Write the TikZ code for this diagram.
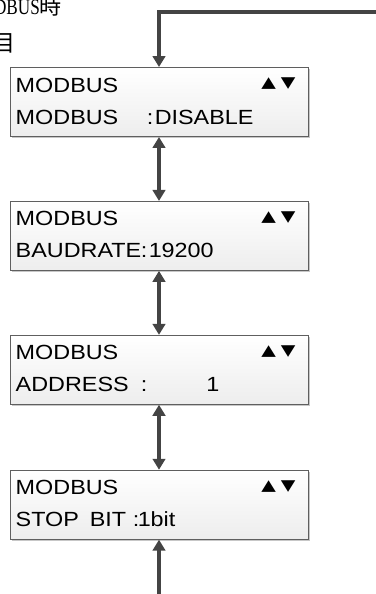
\documentclass[tikz,border=0pt]{standalone}
\usepackage{fontspec}
\usepackage{graphicx}
\setmainfont{Liberation Sans}
\newfontfamily\lcdfont[FakeStretch=1.14]{Liberation Sans}
\newfontfamily\symfont{DejaVu Sans}
\newfontfamily\cjk{Noto Sans CJK JP}
\newfontfamily\serifpart[FakeStretch=0.78]{Liberation Serif}
\usetikzlibrary{
    arrows.meta,
    positioning,
    calc,
    shadows
}
\definecolor{lcdGray}{RGB}{68,68,68}
\definecolor{lcdEdge}{RGB}{95,95,95}
\newcommand{\updown}{\scalebox{1}[0.8]{▲}\hspace{5pt}\scalebox{1}[0.8]{▼}}
\tikzset{
  lcd/.style  = {draw=lcdEdge, line width=0.9pt, top color=white,
                 bottom color=black!7, minimum width=298pt,
                 minimum height=69pt,
                 drop shadow={shadow xshift=1.5pt, shadow yshift=-1.5pt,
                              fill=black!22, opacity=1}},
  txt/.style  = {anchor=base west, inner sep=0pt,
                 font=\lcdfont\fontsize{20.5}{24}\selectfont},
  keys/.style = {inner sep=0pt, font=\symfont\fontsize{19}{22}\selectfont},
  arr/.style  = {-{Triangle[width=12.5pt,length=11pt]}, line width=3.2pt,
                 draw=lcdGray},
  darr/.style = {{Triangle[width=12.5pt,length=11pt]}-{Triangle[width=12.5pt,length=11pt]},
                 line width=3.2pt, draw=lcdGray}
}

\begin{document}
\begin{tikzpicture}[x=1pt, y=-1pt]
\useasboundingbox (0,0) rectangle (375,594);

% --- TITLE (cut at the edges) ---
\node[anchor=base east, inner sep=0pt] (title1) at (62,14.5)
    {{\serifpart\fontsize{22}{24}\selectfont DBUS}{\cjk\fontsize{22}{24}\selectfont 時}};
\node[anchor=base east, inner sep=0pt] (title2) at (16,51.5)
    {\cjk\fontsize{23}{26}\selectfont 目};

% --- DISPLAY SCREENS ---
\node[lcd] (b1) at (159,102) {};
\node[lcd, below=64pt of b1] (b2) {};
\node[lcd, below=64pt of b2] (b3) {};
\node[lcd, below=65pt of b3] (b4) {};

% --- SCREEN 1 ---
\node[txt] (b1h) at ($(b1.north west)+(6,25)$) {MODBUS};
\node[keys] (b1k) at ($(b1.north east)+(-30,17)$) {\updown};
\node[txt] (b1n) at ($(b1.north west)+(6,57)$) {MODBUS};
\node[txt] (b1c) at ($(b1.north west)+(137,57)$) {:};
\node[txt] (b1v) at ($(b1.north west)+(145,57)$) {DISABLE};

% --- SCREEN 2 ---
\node[txt] (b2h) at ($(b2.north west)+(6,25)$) {MODBUS};
\node[keys] (b2k) at ($(b2.north east)+(-30,17)$) {\updown};
\node[txt] (b2n) at ($(b2.north west)+(6,57)$) {BAUDRATE};
\node[txt] (b2c) at ($(b2.north west)+(131,57)$) {:};
\node[txt] (b2v) at ($(b2.north west)+(139,57)$) {19200};

% --- SCREEN 3 ---
\node[txt] (b3h) at ($(b3.north west)+(6,25)$) {MODBUS};
\node[keys] (b3k) at ($(b3.north east)+(-30,17)$) {\updown};
\node[txt] (b3n) at ($(b3.north west)+(6,57)$) {ADDRESS};
\node[txt] (b3c) at ($(b3.north west)+(131,57)$) {:};
\node[txt] (b3v) at ($(b3.north west)+(196.5,57)$) {1};

% --- SCREEN 4 ---
\node[txt] (b4h) at ($(b4.north west)+(6,25)$) {MODBUS};
\node[keys] (b4k) at ($(b4.north east)+(-30,17)$) {\updown};
\node[txt] (b4n) at ($(b4.north west)+(6,57)$) {STOP};
\node[txt] (b4m) at ($(b4.north west)+(80,57)$) {BIT};
\node[txt] (b4c) at ($(b4.north west)+(123,57)$) {:};
\node[txt] (b4v) at ($(b4.north west)+(128,57)$) {1bit};

% --- CONNECTIONS ---
\coordinate (topR) at (380,12);
\coordinate (botS) at ($(b4.south)+(0,70)$);
\draw[arr] (topR) -| (b1.north);
\draw[darr] (b1.south) -- (b2.north);
\draw[darr] (b2.south) -- (b3.north);
\draw[darr] (b3.south) -- (b4.north);
\draw[arr] (botS) -- (b4.south);
\end{tikzpicture}
\end{document}
